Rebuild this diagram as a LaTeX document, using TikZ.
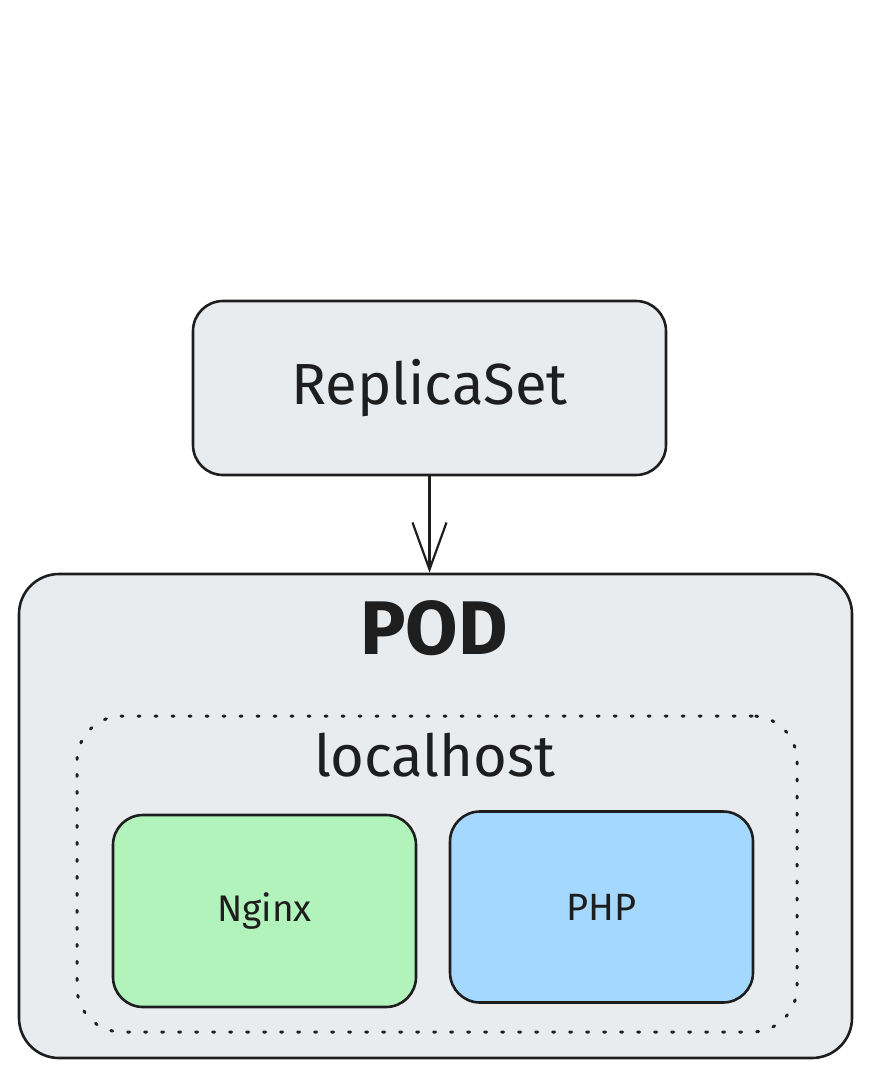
\documentclass[tikz,border=0pt]{standalone}
\usepackage{fontspec}
\setmainfont{Fira Sans}
\usetikzlibrary{arrows.meta}
\definecolor{ink}{HTML}{1E1E1E}
\definecolor{graybg}{HTML}{E9ECEF}
\definecolor{greenbg}{HTML}{B2F2BB}
\definecolor{bluebg}{HTML}{A5D8FF}
\tikzset{
  box/.style={draw=ink, line width=2.6pt, rectangle, inner sep=0pt, text=ink},
  dotbox/.style={draw=ink, line width=3pt, line cap=round, dash pattern=on 2pt off 15pt, rectangle, rounded corners=45pt, inner sep=0pt},
  lbl/.style={text=ink, inner sep=0pt},
  arr/.style={draw=ink, line width=2.2pt, -{Straight Barb[length=47pt, width=34pt, line width=2.2pt]}}
}
\begin{document}
\begin{tikzpicture}[x=1pt, y=-1pt]
\useasboundingbox (0,0) rectangle (871,1078);
\node[box, fill=graybg, rounded corners=30pt, minimum width=473pt, minimum height=174pt,
  font=\fontsize{58}{64}\selectfont] (rs) at (429.5,388) {ReplicaSet};
\node[box, fill=graybg, rounded corners=40pt, minimum width=833pt, minimum height=484pt] (pod) at (435.5,816) {};
\node[lbl, font=\fontsize{76}{80}\selectfont\bfseries] (podlbl) at (434,628) {POD};
\node[dotbox, minimum width=720pt, minimum height=316pt] (lh) at (437,874) {};
\node[lbl, font=\fontsize{58}{62}\selectfont] (lhlbl) at (435,755) {localhost};
\node[box, fill=greenbg, rounded corners=30pt, minimum width=303pt, minimum height=192pt,
  font=\fontsize{37}{40}\selectfont] (ng) at (264.5,911) {Nginx};
\node[box, fill=bluebg, rounded corners=30pt, minimum width=303pt, minimum height=191pt,
  font=\fontsize{38}{40}\selectfont] (php) at (601.5,907) {PHP};
\draw[arr] (rs.south) -- (rs.south |- pod.north);
\end{tikzpicture}
\end{document}
